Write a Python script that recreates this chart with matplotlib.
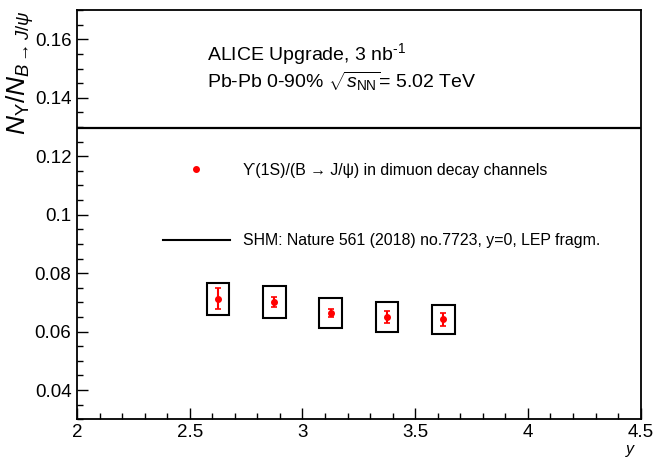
import matplotlib
matplotlib.use('Agg')
import matplotlib.pyplot as plt
from matplotlib.lines import Line2D
from matplotlib.ticker import MultipleLocator, FormatStrFormatter

plt.rcParams['font.family'] = ['Liberation Sans', 'DejaVu Sans']
plt.rcParams['mathtext.fontset'] = 'custom'
plt.rcParams['mathtext.rm'] = 'Liberation Sans'
plt.rcParams['mathtext.it'] = 'Liberation Sans:italic'
plt.rcParams['mathtext.bf'] = 'Liberation Sans:bold'

# rapidity bins and Upsilon(1S)/(B -> J/psi) ratio
rapidity = [2.625, 2.875, 3.125, 3.375, 3.625]
ratio = [0.0712, 0.0700, 0.0663, 0.0650, 0.0642]
stat_err = [0.0036, 0.0017, 0.0013, 0.0019, 0.0022]
sys_err = [0.0054, 0.0055, 0.0052, 0.0050, 0.0050]
bin_halfwidth = 0.05

# statistical hadronisation model value at y=0
shm_value = 0.1295

fig = plt.figure(figsize=(6.55, 4.58), dpi=100)
ax = fig.add_axes([0.1176, 0.0845, 0.8605, 0.8935])

ax.axhline(shm_value, color='black', lw=1.6, zorder=2)

# systematic boxes
ax.bar(rapidity, [2 * s for s in sys_err], width=2 * bin_halfwidth,
       bottom=[v - s for v, s in zip(ratio, sys_err)],
       fill=False, edgecolor='black', lw=1.5, zorder=3)

ax.errorbar(rapidity, ratio, yerr=stat_err, fmt='o', color='#ff0000',
            ms=4, lw=1.5, capsize=2, capthick=1.2, zorder=4)

ax.set_xlim(2, 4.5)
ax.set_ylim(0.03, 0.17)
ax.xaxis.set_major_locator(MultipleLocator(0.5))
ax.xaxis.set_minor_locator(MultipleLocator(0.1))
ax.yaxis.set_major_locator(MultipleLocator(0.02))
ax.yaxis.set_minor_locator(MultipleLocator(0.005))
ax.xaxis.set_major_formatter(FormatStrFormatter('%g'))
ax.yaxis.set_major_formatter(FormatStrFormatter('%g'))
ax.tick_params(which='both', direction='in', top=False, right=False,
               labelsize=13.5, width=1)
ax.tick_params(which='major', length=8)
ax.tick_params(which='minor', length=4)
ax.tick_params(axis='y', pad=4)
ax.tick_params(axis='x', pad=3.5)
for sp in ax.spines.values():
    sp.set_linewidth(1.3)

ax.set_xlabel('$y$', fontsize=11.5, ha='right', va='top')
ax.xaxis.set_label_coords(0.993, -0.057)
ax.set_ylabel(r'$N_{\Upsilon}/N_{B\rightarrow J/\psi}$', fontsize=19,
              ha='right', va='bottom')
ax.yaxis.set_label_coords(-0.073, 1.0)

ax.text(0.2306, 0.878, r'ALICE Upgrade, 3 nb$^{\text{-}1}$', transform=ax.transAxes,
        fontsize=14, va='baseline')
ax.text(0.2306, 0.809, r'Pb-Pb 0-90% $\sqrt{s_{\mathrm{NN}}}$= 5.02 TeV',
        transform=ax.transAxes, fontsize=14, va='baseline')

handles = [
    Line2D([], [], ls='none', marker='o', color='#ff0000', ms=4),
    Line2D([], [], color='black', lw=1.5),
]
labels = [
    '\u03d2(1S)/(B \u2192 J/\u03c8) in dimuon decay channels',
    'SHM: Nature 561 (2018) no.7723, y=0, LEP fragm.',
]
ax.legend(handles, labels, loc='upper left', bbox_to_anchor=(0.1526, 0.627),
          frameon=False, fontsize=11.4, handlelength=4.2, handletextpad=0.85,
          labelspacing=3.5, borderpad=0, borderaxespad=0)

fig.savefig('out.png', dpi=100)
